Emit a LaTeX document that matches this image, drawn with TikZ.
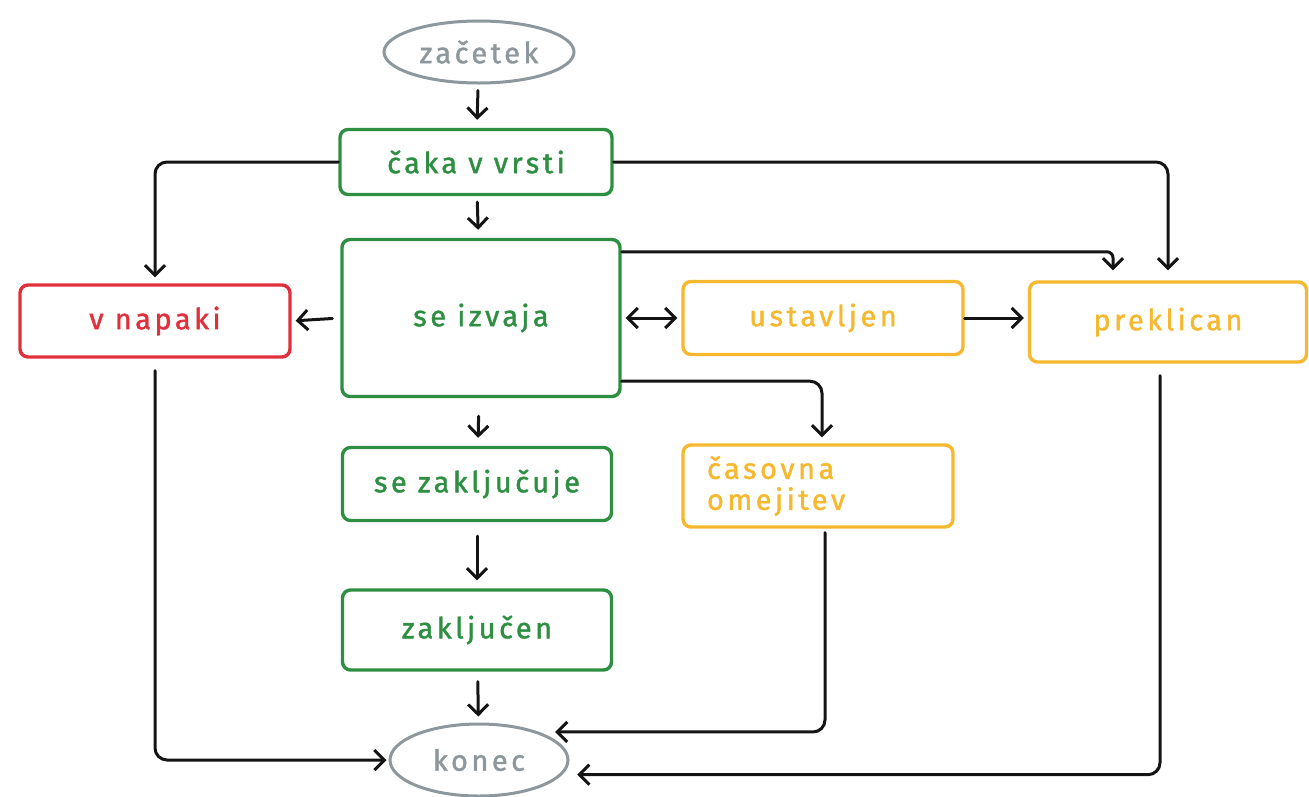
\documentclass[tikz,border=0pt]{standalone}
\usepackage{fontspec}
\setmainfont{Fira Sans}[LetterSpace=12, FakeBold=1.4]
\usetikzlibrary{arrows.meta,shapes.geometric,calc}

\definecolor{okgreen}{HTML}{2E8F42}
\definecolor{errred}{HTML}{E0303C}
\definecolor{waitamber}{HTML}{F5B82E}
\definecolor{endgray}{HTML}{8E979B}
\definecolor{inkblack}{HTML}{141414}

\tikzset{
  state/.style={draw, rectangle, rounded corners=8pt, line width=3.4pt,
    inner sep=0pt, font=\fontsize{29}{34}\selectfont},
  okstate/.style={state, draw=okgreen, text=okgreen},
  errstate/.style={state, draw=errred, text=errred},
  holdstate/.style={state, draw=waitamber, text=waitamber},
  terminal/.style={draw=endgray, text=endgray, ellipse, line width=3pt,
    inner sep=0pt, font=\fontsize{29}{34}\selectfont},
  tip/.tip={Straight Barb[length=10pt,width=20pt,line width=3pt]},
  flow/.style={draw=inkblack, line width=3pt, line cap=round,
    rounded corners=12pt, -tip},
  bothflow/.style={flow, tip-tip}
}

\begin{document}
\begin{tikzpicture}[x=1pt,y=-1pt]
  \useasboundingbox (0,0) rectangle (1309,796);

  % states
  \node[terminal, minimum width=190pt, minimum height=62pt] (start) at (479,52) {začetek};
  \node[okstate, minimum width=272pt, minimum height=65pt] (queued) at (476,162) {čaka v vrsti};
  \node[okstate, minimum width=278pt, minimum height=157pt] (running) at (481,318) {se izvaja};
  \node[errstate, minimum width=270pt, minimum height=72pt] (failed) at (155,321) {v napaki};
  \node[holdstate, minimum width=280pt, minimum height=73pt] (paused) at (823,318) {ustavljen};
  \node[holdstate, minimum width=277pt, minimum height=80pt] (cancelled) at (1168,322) {preklican};
  \node[okstate, minimum width=269pt, minimum height=73pt] (finishing) at (477,484) {se zaključuje};
  \node[holdstate, minimum width=270pt, minimum height=82pt,
        font=\fontsize{29}{31}\selectfont] (timeout) at (818,486)
        {\parbox{222pt}{časovna\\omejitev}};
  \node[okstate, minimum width=269pt, minimum height=80pt] (done) at (477,630) {zaključen};
  \node[terminal, minimum width=178pt, minimum height=72pt] (finish) at (479,760) {konec};

  % main column
  \draw[flow, shorten <=6pt, shorten >=8pt] (start) -- (queued);
  \draw[flow, shorten <=6pt, shorten >=8pt] (queued) -- (running);
  \draw[flow, shorten <=18pt, shorten >=8pt] (running) -- (finishing);
  \draw[flow, shorten <=14pt, shorten >=8pt] (finishing) -- (done);
  \draw[flow, shorten <=10pt, shorten >=6pt] (done) -- (finish);

  % branches out of the queue
  \draw[flow, shorten >=6pt] (queued.west) -| (failed.north);
  \draw[flow, shorten >=10pt] (queued.east) -| (cancelled.north);

  % branches out of the running state
  \draw[flow, rounded corners=6pt]
    ($(running.north east)+(0,14)$) -| ($(cancelled.north)+(-55,-10)$);
  \draw[flow, shorten <=8pt, shorten >=4pt] (running.west) -- (failed.east);
  \draw[bothflow, shorten <=4pt, shorten >=4pt] (running.east) -- (paused.west);
  \draw[flow, shorten >=4pt] (paused.east) -- (paused.east -| cancelled.west);
  \draw[flow, shorten >=6pt] ($(running.south east)+(0,-17)$) -| ($(timeout.north)+(4,0)$);

  % ways into the end state
  \draw[flow, shorten <=12pt, shorten >=2pt] (failed.south) |- (finish.west);
  \draw[flow, shorten >=16pt] ($(timeout.south)+(7,4)$) |- (finish.25);
  \draw[flow, shorten >=15pt] ($(cancelled.south)+(-8,12)$) |- (finish.-10);
\end{tikzpicture}
\end{document}
